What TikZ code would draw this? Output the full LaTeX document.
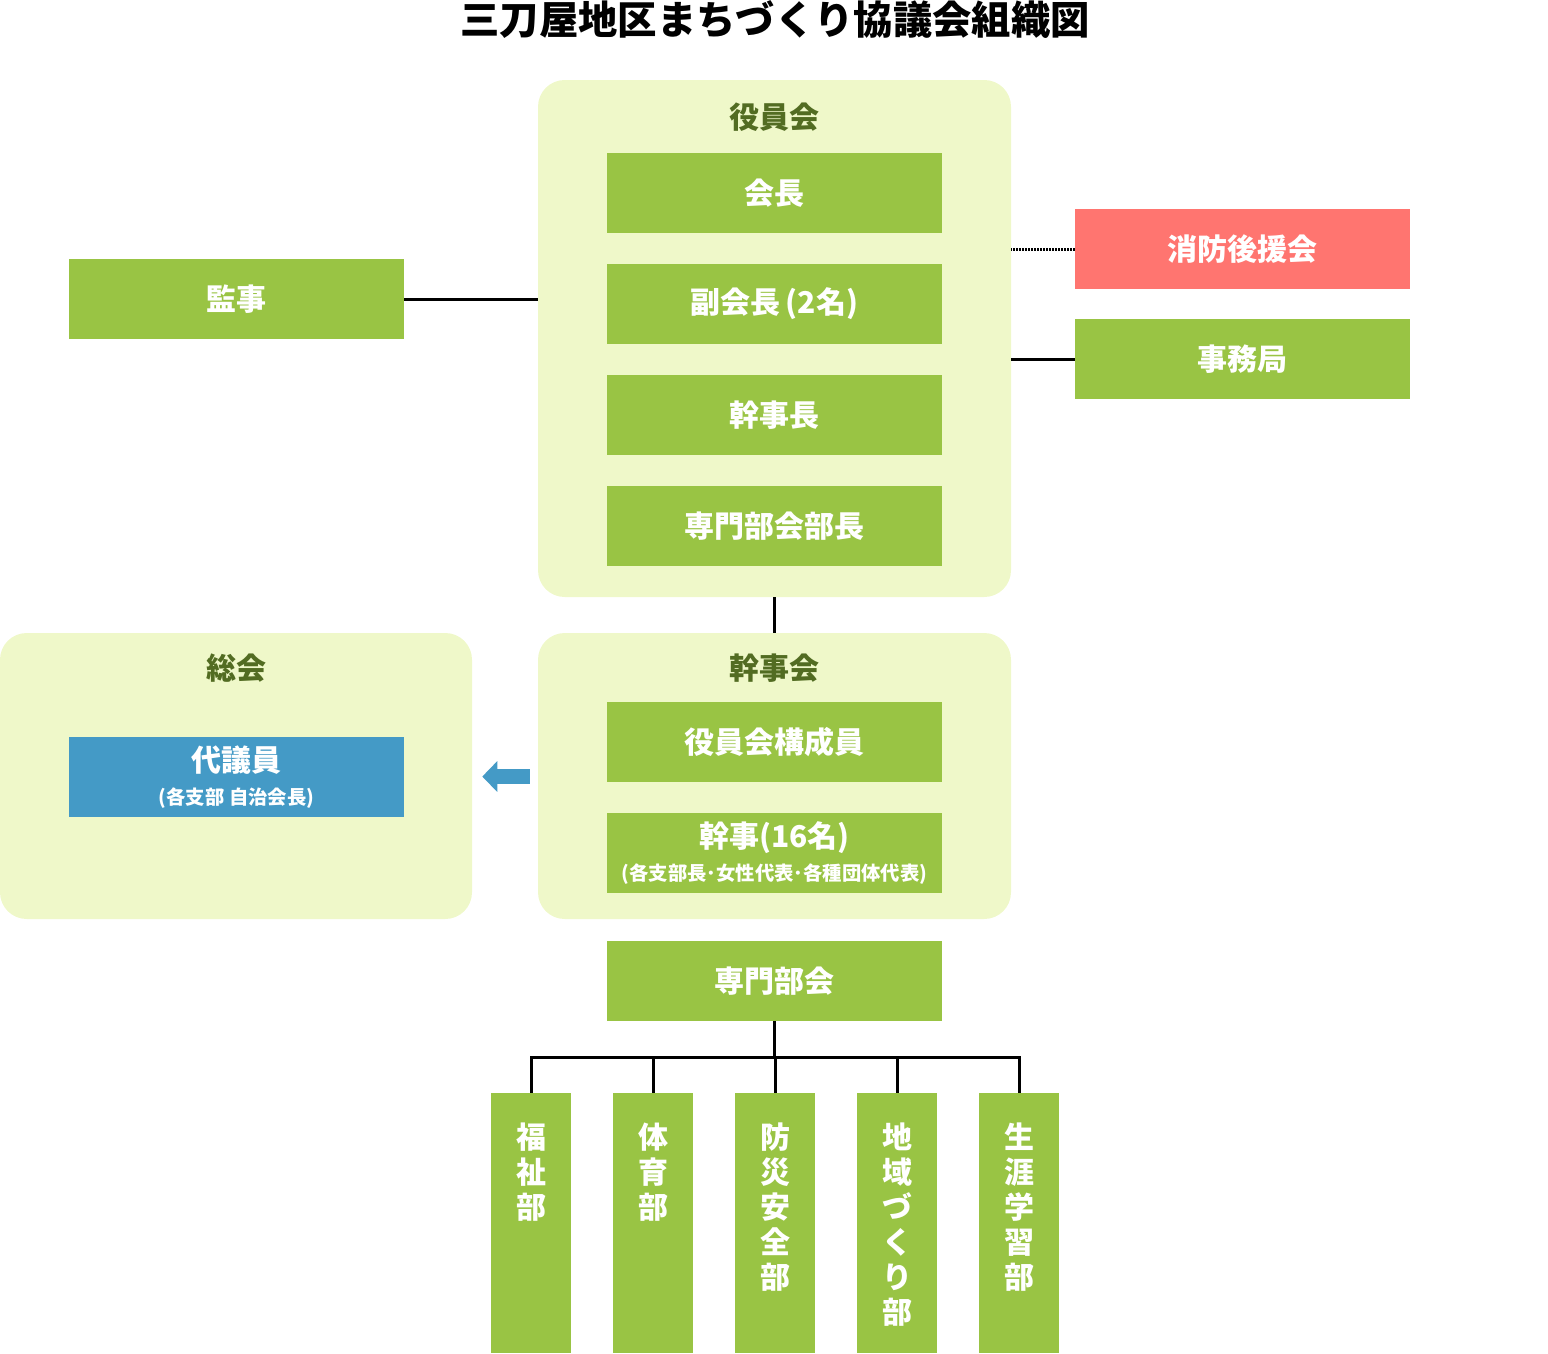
\documentclass[tikz,border=0pt]{standalone}
\usepackage{fontspec}
\setmainfont{Noto Sans CJK JP}
\usetikzlibrary{arrows.meta, positioning}
\definecolor{orgGreen}{RGB}{153,196,68}
\definecolor{orgPale}{RGB}{239,248,201}
\definecolor{orgRed}{RGB}{255,117,112}
\definecolor{orgBlue}{RGB}{68,154,198}
\definecolor{labelGreen}{RGB}{82,108,34}
\newcommand{\subsize}{\fontsize{14.5}{17}\selectfont}

\begin{document}
\begin{tikzpicture}[
        x=0.75pt,
        y=-0.75pt,
        groupBox/.style={fill=orgPale, rounded corners=20pt, inner sep=0pt, minimum width=354.75pt},
        groupLabel/.style={font=\fontsize{22.5}{27}\selectfont\bfseries, text=labelGreen, inner sep=0pt},
        boxBase/.style={
            minimum width=251.25pt,
            minimum height=60pt,
            inner sep=0pt,
            align=center,
            text=white,
            font=\fontsize{22.5}{27}\selectfont\bfseries
        },
        boxGreen/.style={boxBase, fill=orgGreen},
        boxRed/.style={boxBase, fill=orgRed},
        boxBlue/.style={boxBase, fill=orgBlue},
        bukaBox/.style={fill=orgGreen, minimum width=60pt, minimum height=195pt, inner sep=0pt},
        bukaText/.style={text=white, align=center, inner sep=0pt, font=\fontsize{22.5}{26.25}\selectfont\bfseries},
        link/.style={line width=2.25pt},
        dotLink/.style={line width=2.25pt, dash pattern=on 1.5pt off 0.75pt},
        blueArrow/.style={line width=11.25pt, orgBlue, -{Triangle[length=11.25pt, width=22.5pt]}}
    ]
        \useasboundingbox (0,0) rectangle (1548,1353);

        \node[font=\fontsize{29.5}{34}\selectfont\bfseries, inner sep=0pt] (title) at (775,20)
            {三刀屋地区まちづくり協議会組織図};

        \node[groupBox, minimum height=387.75pt] (yakuin) at (774.5,338.5) {};
        \node[groupLabel] (yakuinLabel) at (774,117) {役員会};
        \node[boxGreen] (kaicho) at (774.5,193) {会長};
        \node[boxGreen] (fukukaicho) at (774.5,304) {副会長\,(2名)};
        \node[boxGreen] (kanjicho) at (774.5,415) {幹事長};
        \node[boxGreen] (buchou) at (774.5,526) {専門部会部長};

        \node[boxGreen] (kanshi) at (236.5,299) {監事};
        \node[boxRed] (shobo) at (1242.5,249) {消防後援会};
        \node[boxGreen] (jimu) at (1242.5,359) {事務局};

        \draw[link] (kanshi.east) -- (kanshi.east -| yakuin.west);
        \draw[dotLink] (shobo.west) -- (shobo.west -| yakuin.east);
        \draw[link] (jimu.west) -- (jimu.west -| yakuin.east);

        \node[groupBox, minimum height=214.5pt] (kanjikai) at (774.5,776) {};
        \node[groupLabel] (kanjikaiLabel) at (774,668) {幹事会};
        \node[boxGreen] (kousei) at (774.5,742) {役員会構成員};
        \node[boxGreen] (kanji) at (774.5,853)
            {幹事(16名)\\[-2pt]
             {\subsize (各支部長･女性代表･各種団体代表)}};

        \draw[link] (yakuin.south) -- (kanjikai.north);

        \node[groupBox, minimum width=354pt, minimum height=214.5pt] (sokai) at (236,776) {};
        \node[groupLabel] (sokaiLabel) at (236,668) {総会};
        \node[boxBlue] (daigi) at (236.5,777)
            {代議員\\[-2pt]
             {\subsize (各支部 自治会長)}};

        \draw[blueArrow] ([xshift=-6pt,yshift=-0.4pt]kanjikai.west) -- ([xshift=7.5pt,yshift=-0.4pt]sokai.east);

        \node[boxGreen] (senmon) at (774.5,981) {専門部会};
        \coordinate (fork) at (774.5,1057);

        \foreach \name/\x/\txt in {fukushi/531/{福\\祉\\部}, taiiku/653/{体\\育\\部},
                bosai/775/{防\\災\\安\\全\\部}, chiiki/897/{地\\域\\づ\\く\\り\\部},
                shogai/1019/{生\\涯\\学\\習\\部}} {
            \node[bukaBox] (\name) at (\x,1223) {};
            \node[bukaText, anchor=north] (\name-t) at (\x,1123) {\txt};
        }

        \draw[link] (senmon.south) -- (fork);
        \draw[link] (fukushi.north) |- (shogai.north |- fork) -- (shogai.north);
        \foreach \name in {taiiku, bosai, chiiki}
            \draw[link] (\name.north) -- (\name.north |- fork);
    \end{tikzpicture}
\end{document}
